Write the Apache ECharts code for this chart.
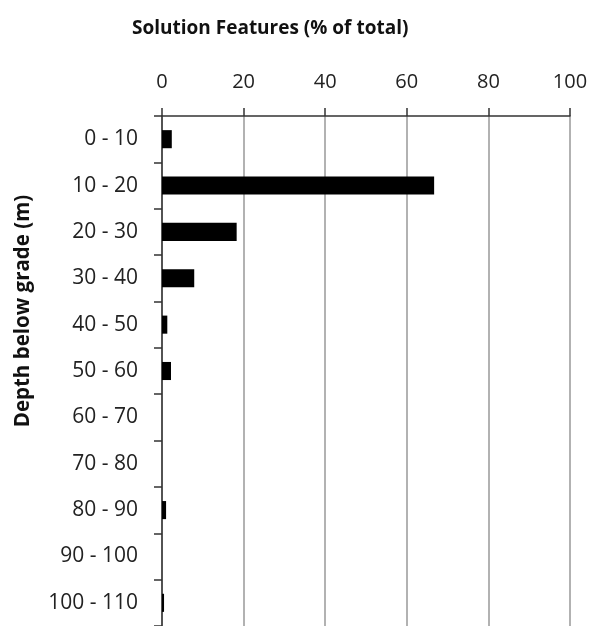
<!DOCTYPE html>
<html>
<head>
<meta charset="utf-8">
<script src="https://cdn.jsdelivr.net/npm/echarts@6/dist/echarts.min.js"></script>
<style>html,body{margin:0;padding:0;background:#fff}#c{width:591px;height:626px}</style>
</head>
<body>
<div id="c"></div>
<script>
const categories = ['0 - 10','10 - 20','20 - 30','30 - 40','40 - 50','50 - 60','60 - 70','70 - 80','80 - 90','90 - 100','100 - 110'];
const values = [2.4, 66.7, 18.3, 7.9, 1.3, 2.2, 0, 0, 1.0, 0, 0.5];
const xTicks = [0, 20, 40, 60, 80, 100];
const titleText = 'Solution Features (% of total)';
const yTitle = 'Depth below grade (m)';

const FONT = 'Open Sans';
const chart = echarts.init(document.getElementById('c'), null, {renderer: 'canvas'});
chart.setOption({
  animation: false,
  backgroundColor: '#fff',
  title: {
    text: titleText, left: 127, top: 14,
    textStyle: {fontFamily: FONT, fontWeight: 'bold', fontSize: 19, color: '#111'}
  },
  graphic: [{
    type: 'text', x: 23, y: 311, rotation: Math.PI / 2,
    style: {text: yTitle, fontFamily: FONT, fontWeight: 'bold', fontSize: 20.5, fill: '#111', align: 'center', verticalAlign: 'middle'}
  }],
  grid: {left: 162, top: 116, width: 408, height: 515, containLabel: false},
  xAxis: {
    type: 'value', position: 'top', min: xTicks[0], max: xTicks[xTicks.length - 1], interval: 20,
    axisLine: {show: true, lineStyle: {color: '#333', width: 1.5}},
    axisTick: {show: true, length: 8, lineStyle: {color: '#333', width: 1.5}},
    axisLabel: {margin: 24, fontFamily: FONT, fontSize: 20, color: '#222'},
    splitLine: {show: true, lineStyle: {color: '#999', width: 1.5}}
  },
  yAxis: {
    type: 'category', data: categories, inverse: true,
    axisLine: {show: true, lineStyle: {color: '#333', width: 1.5}},
    axisTick: {show: true, length: 8, lineStyle: {color: '#333', width: 1.5}},
    axisLabel: {margin: 24, fontFamily: FONT, fontSize: 21, color: '#222'},
    splitLine: {show: false}
  },
  series: [{
    type: 'bar', data: values, barCategoryGap: '61%',
    itemStyle: {color: '#000'}
  }]
});
</script>
</body>
</html>
